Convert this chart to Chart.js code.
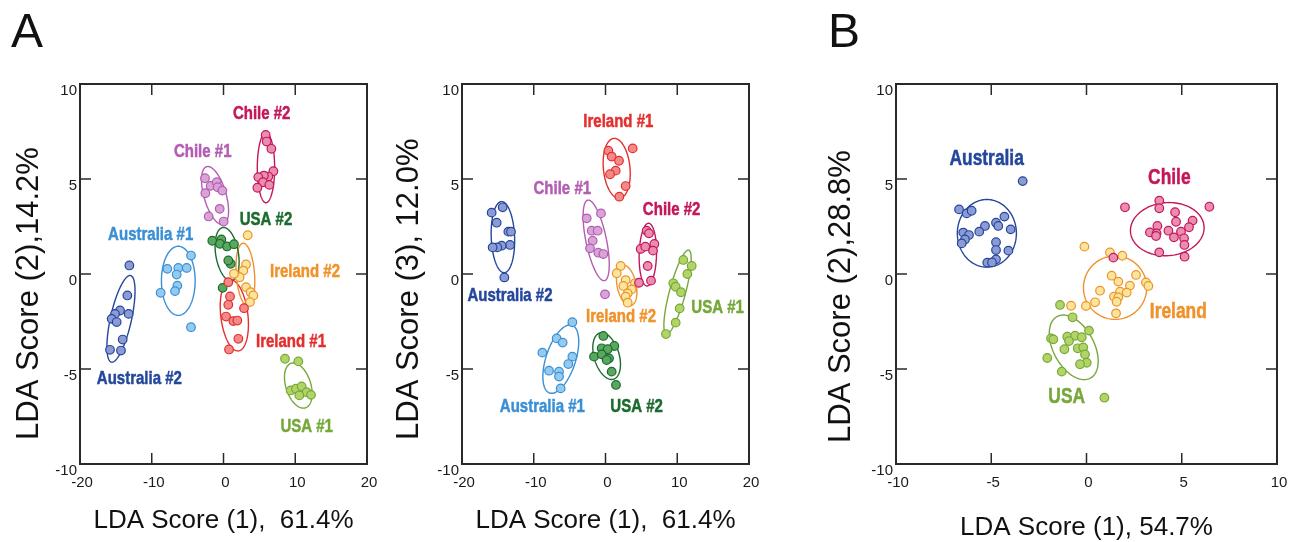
<!DOCTYPE html>
<html>
<head>
<meta charset="utf-8">
<title>LDA scores</title>
<script src="https://cdn.jsdelivr.net/npm/chart.js@4.4.1/dist/chart.umd.min.js"></script>
<style>
    html, body { margin: 0; padding: 0; background: #fff; }
    #figure { position: relative; width: 1291px; height: 542px; overflow: hidden; }
    .panel { position: absolute; top: 0; }
</style>
</head>
<body>
<div id="figure">
    <canvas class="panel" id="panelA1" width="380" height="542" style="left:0"></canvas>
    <canvas class="panel" id="panelA2" width="380" height="542" style="left:380px"></canvas>
    <canvas class="panel" id="panelB" width="501" height="542" style="left:790px"></canvas>
</div>
<script>
// axis ticks
const ticksWide = [-20, -10, 0, 10, 20];
const ticksNarrow = [-10, -5, 0, 5, 10];
const ticksY = [-10, -5, 0, 5, 10];

// ---- panel A, LDA 1 vs LDA 2 ----
const a1Australia1 = [[-7.83, 0.27], [-6.3, 0.32], [-5.13, 0.32], [-6.53, -0.03], [-6.43, -0.61], [-6.76, -0.9], [-8.76, -0.99], [-4.53, -2.8], [-4.53, 0.97]];
const a1Australia2 = [[-13.12, 0.45], [-13.4, -1.13], [-14.42, -1.92], [-15.12, -2.1], [-15.59, -2.36], [-14.89, -2.53], [-13.22, -2.1], [-14.05, -3.45], [-15.82, -3.99], [-14.29, -4.03]];
const a1Chile1 = [[-2.58, 5.04], [-1.79, 4.64], [-0.95, 4.83], [-0.81, 4.57], [-0.16, 4.39], [-2.53, 4.25], [-0.53, 3.43], [-2.07, 3.03], [0.02, 2.76]];
const a1Chile2 = [[5.88, 7.32], [6.02, 6.97], [6.67, 6.59], [6.95, 5.41], [6.25, 5.13], [5.64, 5.18], [4.85, 5.1], [5.5, 4.83], [6.39, 4.69], [4.72, 4.54]];
const a1Ireland1 = [[0.67, -0.43], [0.91, -1.18], [0.67, -1.62], [0.35, -2.24], [1.37, -2.48], [1.93, -2.45], [2.86, -1.8], [2.07, -3.41], [0.77, -3.97]];
const a1Ireland2 = [[3.37, 2.04], [3.14, 0.5], [2.76, 0.18], [2.25, -0.17], [1.46, 0.01], [3.14, -0.69], [3.79, -0.96], [4.16, -1.13], [3.69, -1.48]];
const a1Usa1 = [[8.57, -4.46], [10.43, -4.6], [9.36, -6.13], [10.1, -6.04], [10.89, -5.92], [11.59, -6.22], [12.2, -6.36], [10.57, -6.39]];
const a1Usa2 = [[-1.56, 1.75], [-0.3, 1.82], [-0.49, 1.59], [0.49, 1.45], [1.46, 1.57], [1.0, 0.54], [0.67, 0.71], [-0.12, -0.73]];

// ellipse: centre x, centre y, top point offset x, top point offset y, half width at centre
const a1Rings = [
    [-6.3, -0.36, 0, 1.82, 2.35],
    [-14.29, -2.36, 1.26, 2.28, 1.5],
    [-1.18, 4.13, -1.0, 1.53, 1.6],
    [5.92, 5.59, 0, 1.84, 1.21],
    [1.51, -2.18, -0.5, 1.87, 1.9],
    [3.05, -0.02, -0.3, 1.64, 1.28],
    [10.43, -5.87, -0.7, 1.19, 1.8],
    [0.5, 1.05, -0.5, 1.4, 1.6]
];
const a1Names = ["Australia #1", "Australia #2", "Chile #1", "Chile #2", "Ireland #1", "Ireland #2", "USA #1", "USA #2"];
const a1NameX = [-10.15, -11.73, -2.9, 5.32, 9.41, 11.36, 11.59, 5.92];
const a1NameY = [2.06, -5.52, 6.41, 8.43, -3.55, 0.1, -8.06, 2.85];

// ---- panel A, LDA 1 vs LDA 3 ----
const a2Australia1 = [[-4.62, -2.54], [-6.81, -3.39], [-5.97, -3.61], [-8.8, -4.14], [-4.62, -4.35], [-5.18, -4.74], [-7.87, -5.09], [-6.48, -5.14], [-6.48, -5.4], [-6.25, -6.02]];
const a2Australia2 = [[-15.87, 3.23], [-14.33, 3.51], [-15.17, 2.7], [-13.54, 2.23], [-13.17, 2.23], [-13.31, 1.53], [-14.47, 1.49], [-15.08, 1.4], [-15.73, 1.4], [-14.1, -0.18]];
const a2Chile1 = [[-2.62, 2.93], [-0.63, 3.19], [-1.93, 2.28], [-1.09, 2.28], [-1.79, 1.75], [-2.16, 1.35], [-1.0, 1.12], [-0.3, 1.05], [-0.07, -1.07]];
const a2Chile2 = [[5.74, 2.28], [6.06, 2.14], [6.81, 1.58], [4.9, 1.32], [5.55, 1.44], [6.62, 1.23], [5.88, 0.42], [6.34, -0.35], [4.67, -0.46]];
const a2Ireland1 = [[0.4, 6.49], [0.86, 6.18], [1.88, 5.96], [1.42, 5.44], [0.63, 5.25], [3.79, 6.61], [2.81, 4.63], [1.93, 4.07]];
const a2Ireland2 = [[2.11, 0.42], [1.56, 0.04], [2.81, -0.32], [4.11, -0.49], [2.49, -0.63], [3.65, -0.81], [3.09, -1.02], [2.81, -1.19], [3.09, -1.51]];
const a2Usa1 = [[10.85, 0.74], [12.01, 0.42], [11.41, 0.0], [9.45, -0.49], [9.78, -0.67], [10.52, -0.96], [10.34, -1.81], [9.78, -2.56], [8.43, -3.16]];
const a2Usa2 = [[-0.3, -3.26], [1.23, -3.79], [-0.53, -3.91], [0.3, -3.96], [-1.6, -4.35], [-0.53, -4.23], [0.49, -4.44], [0.16, -4.53], [0.86, -5.14], [1.46, -5.84]];

const a2Rings = [
    [-6.23, -4.48, 1.28, 1.8, 2.15],
    [-14.3, 1.94, -0.17, 1.87, 1.63],
    [-1.3, 1.77, -1.09, 2.12, 1.46],
    [5.9, 1.02, 0.1, 1.65, 1.21],
    [1.56, 5.56, -0.33, 1.58, 1.86],
    [2.95, -0.6, -0.46, 1.07, 1.35],
    [10.04, -0.95, 1.51, 2.21, 1.16],
    [0.16, -4.32, -0.69, 1.23, 1.8]
];
const a2Names = ["Australia #1", "Australia #2", "Chile #1", "Chile #2", "Ireland #1", "Ireland #2", "USA #1", "USA #2"];
const a2NameX = [-8.8, -13.31, -6.02, 9.22, 1.79, 2.16, 15.63, 4.34];
const a2NameY = [-6.98, -1.16, 4.51, 3.37, 8.02, -2.25, -1.77, -6.98];

// ---- panel B ----
const bAustralia = [[-3.35, 4.89], [-6.69, 3.4], [-6.29, 3.19], [-6.03, 3.33], [-4.31, 3.02], [-4.75, 2.7], [-4.63, 2.53], [-5.33, 2.53], [-5.63, 2.23], [-3.98, 2.35], [-6.47, 2.18], [-6.17, 2.05], [-6.38, 1.82], [-6.55, 1.61], [-4.75, 1.67], [-4.75, 1.26], [-4.1, 1.23], [-4.75, 0.77], [-5.21, 0.6], [-4.96, 0.61]];
const bChile = [[2.02, 3.51], [3.82, 3.86], [3.82, 3.46], [6.45, 3.54], [4.65, 3.25], [5.57, 2.81], [4.7, 2.75], [3.72, 2.53], [5.38, 2.46], [4.3, 2.28], [3.33, 2.19], [3.68, 2.14], [4.96, 2.23], [3.65, 2.0], [4.59, 1.93], [5.12, 1.88], [5.14, 1.53], [3.82, 1.14], [5.15, 0.91], [1.41, 0.86]];
const bIreland = [[-0.11, 1.44], [1.23, 1.14], [1.88, 0.96], [1.32, -0.09], [2.6, -0.05], [1.67, -0.4], [2.28, -0.61], [3.12, -0.44], [3.25, -0.63], [0.71, -0.88], [1.76, -0.93], [2.11, -0.98], [1.44, -1.19], [1.67, -1.23], [1.58, -1.46], [0.45, -1.49], [-0.03, -1.68], [-0.81, -1.67], [1.55, -2.07]];
const bUsa = [[-1.39, -1.63], [-0.73, -2.28], [0.13, -2.98], [-1.86, -3.39], [-1.74, -3.44], [-1.01, -3.3], [-0.6, -3.25], [-0.25, -3.33], [-0.92, -3.53], [-1.16, -3.96], [-0.46, -3.91], [-0.17, -3.86], [-0.08, -4.23], [-2.06, -4.42], [0.01, -4.67], [-0.34, -4.75], [-1.3, -5.14], [0.94, -6.51]];

const bRings = [
    [-5.23, 2.14, 0, 1.78, 1.55],
    [4.24, 2.36, 0.1, 1.4, 1.93],
    [1.5, -0.72, 0, 1.67, 1.66],
    [-0.67, -3.86, -0.55, 1.7, 1.16]
];
const bNames = ["Australia", "Chile", "Ireland", "USA"];
const bNameX = [-5.24, 4.35, 4.82, -1.04];
const bNameY = [6.04, 5.07, -1.98, -6.46];

// stroke / fill per group
const palette = {
    aus1: ["#3b8fd5", "#93cbef"],
    aus2: ["#24479c", "#8d9bd4"],
    chile1: ["#b35db3", "#d8a4d8"],
    chile2: ["#c2185b", "#ea8db1"],
    ire1: ["#e42f2f", "#f28a8a"],
    ire2: ["#f0922b", "#f9e59b"],
    usa1: ["#76a83a", "#b2d466"],
    usa2: ["#1b6b2e", "#5aa860"]
};

const titleFont = "'Liberation Sans', Arial, sans-serif";

function makeSets(pointLists, rings, names, nameX, nameY, colorKeys) {
    return pointLists.map((pts, i) => ({
        label: names[i],
        data: pts.map((p) => ({ x: p[0], y: p[1] })),
        ring: rings[i],
        nameAt: [nameX[i], nameY[i]],
        borderColor: palette[colorKeys[i]][0],
        backgroundColor: palette[colorKeys[i]][1],
        pointRadius: 4.3,
        pointBorderWidth: 1.2
    }));
}

const clusterPlugin = {
    id: "clusters",
    beforeDatasetsDraw(chart) {
        const { ctx, chartArea: area, scales } = chart;
        ctx.save();
        ctx.beginPath();
        ctx.rect(area.left, area.top, area.width, area.height);
        ctx.clip();
        chart.data.datasets.forEach((ds) => {
            const r = ds.ring;
            ctx.beginPath();
            for (let i = 0; i <= 144; i++) {
                const t = i / 144 * Math.PI * 2;
                const px = scales.x.getPixelForValue(r[0] + r[2] * Math.cos(t) + r[4] * Math.sin(t));
                const py = scales.y.getPixelForValue(r[1] + r[3] * Math.cos(t));
                if (i === 0) {
                    ctx.moveTo(px, py);
                }
                else {
                    ctx.lineTo(px, py);
                }
            }
            ctx.strokeStyle = ds.borderColor;
            ctx.lineWidth = 1.4;
            ctx.stroke();
        });
        ctx.restore();
    },
    afterDatasetsDraw(chart) {
        const { ctx, scales } = chart;
        const size = chart.options.plugins.clusters.nameSize;
        ctx.save();
        ctx.font = "bold " + size + "px " + titleFont;
        ctx.textAlign = "center";
        ctx.textBaseline = "middle";
        chart.data.datasets.forEach((ds) => {
            const px = scales.x.getPixelForValue(ds.nameAt[0]);
            const py = scales.y.getPixelForValue(ds.nameAt[1]);
            // squeeze the bold face so it reads like a condensed one
            ctx.save();
            ctx.translate(px, py);
            ctx.scale(0.79, 1);
            ctx.fillStyle = ds.borderColor;
            ctx.strokeStyle = ds.borderColor;
            ctx.lineWidth = 0.5;
            ctx.fillText(ds.label, 0, 0);
            ctx.strokeText(ds.label, 0, 0);
            ctx.restore();
        });
        ctx.restore();
    }
};

const framePlugin = {
    id: "frame",
    afterDraw(chart) {
        const { ctx, chartArea: a, scales } = chart;
        const opts = chart.options.plugins.frame;
        ctx.save();
        ctx.strokeStyle = "#2a2a2a";
        ctx.lineWidth = 2;
        ctx.strokeRect(a.left, a.top, a.width, a.height);

        ctx.lineWidth = 1.5;
        ctx.beginPath();
        scales.x.ticks.forEach((t) => {
            const px = scales.x.getPixelForValue(t.value);
            ctx.moveTo(px, a.top);
            ctx.lineTo(px, a.top + 11);
            ctx.moveTo(px, a.bottom);
            ctx.lineTo(px, a.bottom - 11);
        });
        scales.y.ticks.forEach((t) => {
            const py = scales.y.getPixelForValue(t.value);
            ctx.moveTo(a.left, py);
            ctx.lineTo(a.left + 11, py);
            ctx.moveTo(a.right, py);
            ctx.lineTo(a.right - 11, py);
        });
        ctx.stroke();

        ctx.fillStyle = "#1a1a1a";
        ctx.font = "15px " + titleFont;
        ctx.textBaseline = "alphabetic";
        ctx.textAlign = "center";
        scales.x.ticks.forEach((t) => {
            ctx.fillText(t.label, scales.x.getPixelForValue(t.value) + 2, a.bottom + 23);
        });
        ctx.textAlign = "right";
        scales.y.ticks.forEach((t) => {
            ctx.fillText(t.label, a.left - 3, scales.y.getPixelForValue(t.value) + 11);
        });

        ctx.fillStyle = "#111";
        ctx.font = "26px " + titleFont;
        ctx.textAlign = "center";
        ctx.textBaseline = "middle";
        ctx.fillText(opts.xTitle, (a.left + a.right) / 2, opts.xTitleY);

        ctx.save();
        ctx.translate(opts.yTitleX, opts.yTitleStart);
        ctx.rotate(-Math.PI / 2);
        ctx.font = "31px " + titleFont;
        ctx.textAlign = "left";
        ctx.fillText(opts.yTitle, 0, 0);
        ctx.restore();

        if (opts.tag) {
            ctx.font = "48px " + titleFont;
            ctx.textAlign = "left";
            ctx.textBaseline = "alphabetic";
            ctx.fillText(opts.tag, opts.tagX, 47);
        }
        ctx.restore();
    }
};

function drawPanel(id, datasets, xTicks, frame, yWidth, rightPad, nameSize) {
    const canvas = document.getElementById(id);
    return new Chart(canvas.getContext("2d"), {
        type: "scatter",
        data: { datasets },
        options: {
            responsive: false,
            animation: false,
            events: [],
            layout: { padding: { top: 84, right: rightPad, left: 0, bottom: 0 } },
            plugins: {
                legend: { display: false },
                tooltip: { enabled: false },
                clusters: { nameSize },
                frame
            },
            scales: {
                x: {
                    type: "linear",
                    min: xTicks[0],
                    max: xTicks[xTicks.length - 1],
                    ticks: { stepSize: xTicks[1] - xTicks[0], display: false },
                    grid: { display: false },
                    border: { display: false },
                    afterFit(scale) { scale.height = 78; }
                },
                y: {
                    type: "linear",
                    min: ticksY[0],
                    max: ticksY[ticksY.length - 1],
                    ticks: { stepSize: ticksY[1] - ticksY[0], display: false },
                    grid: { display: false },
                    border: { display: false },
                    afterFit(scale) { scale.width = yWidth; }
                }
            }
        },
        plugins: [clusterPlugin, framePlugin]
    });
}

const groupColorsA = ["aus1", "aus2", "chile1", "chile2", "ire1", "ire2", "usa1", "usa2"];
const groupColorsB = ["aus2", "chile2", "ire2", "usa1"];

drawPanel(
    "panelA1",
    makeSets([a1Australia1, a1Australia2, a1Chile1, a1Chile2, a1Ireland1, a1Ireland2, a1Usa1, a1Usa2], a1Rings, a1Names, a1NameX, a1NameY, groupColorsA),
    ticksWide,
    { xTitle: "LDA Score (1),  61.4%", xTitleY: 521, yTitle: "LDA Score (2),14.2%", yTitleX: 29, yTitleStart: 440, tag: "A", tagX: 11 },
    80, 13, 19
);

drawPanel(
    "panelA2",
    makeSets([a2Australia1, a2Australia2, a2Chile1, a2Chile2, a2Ireland1, a2Ireland2, a2Usa1, a2Usa2], a2Rings, a2Names, a2NameX, a2NameY, groupColorsA),
    ticksWide,
    { xTitle: "LDA Score (1),  61.4%", xTitleY: 521, yTitle: "LDA Score (3), 12.0%", yTitleX: 29, yTitleStart: 440 },
    82, 11, 19
);

drawPanel(
    "panelB",
    makeSets([bAustralia, bChile, bIreland, bUsa], bRings, bNames, bNameX, bNameY, groupColorsB),
    ticksNarrow,
    { xTitle: "LDA Score (1), 54.7%", xTitleY: 528, yTitle: "LDA Score (2),28.8%", yTitleX: 51, yTitleStart: 443, tag: "B", tagX: 38 },
    106, 14, 22
);
</script>
</body>
</html>
